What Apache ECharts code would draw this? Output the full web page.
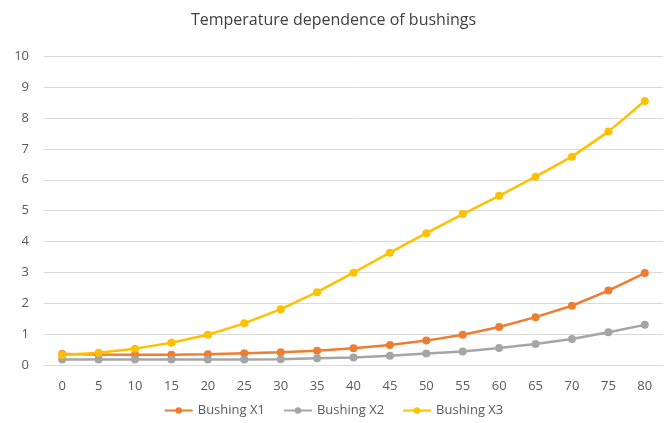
<!DOCTYPE html>
<html>
<head>
<meta charset="utf-8">
<script src="https://cdn.jsdelivr.net/npm/echarts@6/dist/echarts.min.js"></script>
<style>html,body{margin:0;padding:0;background:#fff}#c{width:667px;height:423px}</style>
</head>
<body>
<div id="c"></div>
<script>
const categories = ['0','5','10','15','20','25','30','35','40','45','50','55','60','65','70','75','80'];
const bushingX1 = [0.36,0.34,0.33,0.33,0.35,0.38,0.41,0.46,0.54,0.65,0.79,0.98,1.23,1.55,1.92,2.41,2.98];
const bushingX2 = [0.18,0.18,0.18,0.18,0.18,0.18,0.19,0.22,0.24,0.30,0.37,0.44,0.55,0.68,0.84,1.06,1.30];
const bushingX3 = [0.32,0.40,0.53,0.72,0.98,1.35,1.81,2.36,2.99,3.64,4.27,4.89,5.48,6.10,6.75,7.56,8.55];
const seriesNames = ['Bushing X1','Bushing X2','Bushing X3'];
const colors = ['#ED7D31','#A5A5A5','#FFC000'];
const font = '"Open Sans", sans-serif';

const chart = echarts.init(document.getElementById('c'));
const mk = (name, data, color) => ({
  name, type: 'line', data,
  symbol: 'circle', symbolSize: 8,
  lineStyle: {width: 2.5, color},
  itemStyle: {color},
  emphasis: {disabled: true},
  animation: false
});
chart.setOption({
  animation: false,
  title: {
    text: 'Temperature dependence of bushings',
    left: 'center', top: 7,
    textStyle: {fontFamily: font, fontSize: 16, fontWeight: 'normal', color: '#404040'}
  },
  legend: {
    bottom: 1, left: 'center',
    itemWidth: 28, itemHeight: 8, itemGap: 18,
    textStyle: {fontFamily: font, fontSize: 13, color: '#595959'},
    data: seriesNames
  },
  grid: {left: 44, right: 4, top: 56.3, bottom: 423 - 365},
  xAxis: {
    type: 'category', data: categories, boundaryGap: true, offset: 3,
    axisLine: {lineStyle: {color: '#D9D9D9', width: 1}},
    axisTick: {show: false},
    axisLabel: {fontFamily: font, fontSize: 13, color: '#595959', margin: 12}
  },
  yAxis: {
    type: 'value', min: 0, max: 10, interval: 1,
    axisLine: {show: false}, axisTick: {show: false},
    splitLine: {lineStyle: {color: '#D9D9D9', width: 1}},
    axisLabel: {fontFamily: font, fontSize: 13, color: '#595959', margin: 15}
  },
  series: [
    mk(seriesNames[0], bushingX1, colors[0]),
    mk(seriesNames[1], bushingX2, colors[1]),
    mk(seriesNames[2], bushingX3, colors[2])
  ]
});
</script>
</body>
</html>
